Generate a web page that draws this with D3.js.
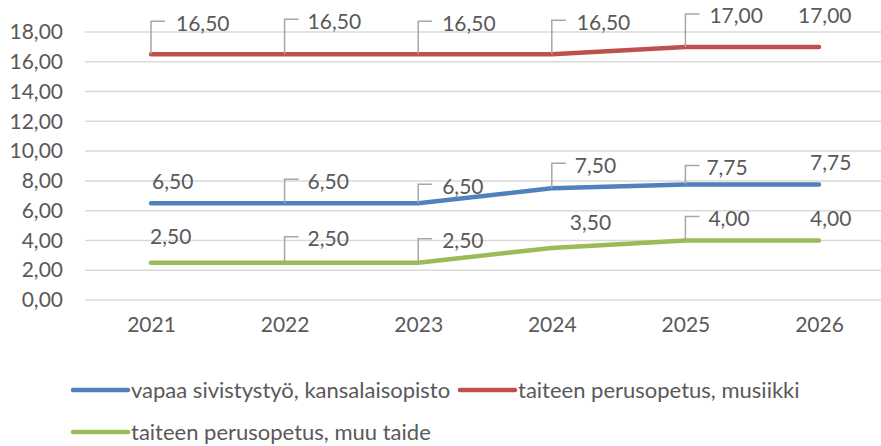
<!DOCTYPE html>
<html>
<head>
<meta charset="utf-8">
<script src="https://cdn.jsdelivr.net/npm/d3@7"></script>
<style>
body { margin: 0; background: #fff; }
text { font-family: Lato, "Noto Sans", sans-serif; fill: #595959; }
</style>
</head>
<body>
<div id="chart"></div>
<script>
// chart data
var years = ["2021", "2022", "2023", "2024", "2025", "2026"];
var kansalaisopisto = [6.5, 6.5, 6.5, 7.5, 7.75, 7.75];
var musiikki = [16.5, 16.5, 16.5, 16.5, 17, 17];
var muuTaide = [2.5, 2.5, 2.5, 3.5, 4, 4];
var yTicks = [0, 2, 4, 6, 8, 10, 12, 14, 16, 18];

var seriesNames = ["vapaa sivistystyö, kansalaisopisto", "taiteen perusopetus, musiikki", "taiteen perusopetus, muu taide"];
var seriesColors = ["#4F81BD", "#C0504D", "#9BBB59"];

// label placement (dx = text left from point, dy = text middle from point, leader line or not)
var labelPos = [
	[[1,-22,0],[23,-22,1],[24,-17,1],[23,-23,1],[21,-17,1],[-9,-22,0]],
	[[25,-31,1],[23,-33,1],[24,-31,1],[25,-32,1],[24,-31,1],[-21,-31,0]],
	[[-1,-26,0],[23,-24,1],[24,-22,1],[18,-25,0],[23,-22,1],[-9,-22,0]]
];

var width = 881, height = 446;
var numSize = "21px", legSize = "22px";
var fmt = function(v){ return v.toFixed(2).replace(".", ","); };

var svg = d3.select("#chart").append("svg")
	.attr("width", width)
	.attr("height", height);

var x = d3.scalePoint()
	.domain(years)
	.range([151, 819]);
var y = d3.scaleLinear()
	.domain([0, 18])
	.range([300, 32]);

// grid
svg.append("g").selectAll("line")
	.data(yTicks)
	.enter().append("line")
	.attr("x1", 85).attr("x2", 886)
	.attr("y1", function(d){ return y(d); })
	.attr("y2", function(d){ return y(d); })
	.attr("stroke", "#D9D9D9")
	.attr("stroke-width", 1.5);

// y axis labels
var yAxis = svg.append("g")
	.attr("transform", "translate(63,0)")
	.call(d3.axisLeft(y).tickValues(yTicks).tickFormat(fmt).tickSize(0).tickPadding(0));
yAxis.select(".domain").remove();
yAxis.selectAll("text").style("font-size", numSize).attr("fill", "#595959").style("font-family", null);

// x axis labels
var xAxis = svg.append("g")
	.attr("transform", "translate(0,317)")
	.call(d3.axisBottom(x).tickSize(0).tickPadding(0));
xAxis.select(".domain").remove();
xAxis.selectAll("text").style("font-size", numSize).attr("fill", "#595959").attr("dy", "0.72em").style("font-family", null);

var allSeries = [kansalaisopisto, musiikki, muuTaide];
var line = d3.line()
	.x(function(d, i){ return x(years[i]); })
	.y(function(d){ return y(d); });

// lines
allSeries.forEach(function(s, k){
	svg.append("path")
		.datum(s)
		.attr("d", line)
		.attr("fill", "none")
		.attr("stroke", seriesColors[k])
		.attr("stroke-width", 4.5)
		.attr("stroke-linecap", "round")
		.attr("stroke-linejoin", "round");
});

// data labels
allSeries.forEach(function(s, k){
	var g = svg.append("g");
	s.forEach(function(v, i){
		var px = x(years[i]), py = y(v);
		var p = labelPos[k][i];
		if(p[2])
		{
			g.append("path")
				.attr("d", "M" + px + "," + py + "V" + (py + p[1] - 2) + "H" + (px + 14))
				.attr("fill", "none")
				.attr("stroke", "#A6A6A6")
				.attr("stroke-width", 1.5);
		}
		g.append("text")
			.attr("x", px + p[0])
			.attr("y", py + p[1])
			.attr("dy", "0.36em")
			.style("font-size", numSize)
			.text(fmt(v));
	});
});

// legend
var legendPos = [[73, 390], [460, 390], [73, 432]];
allSeries.forEach(function(s, k){
	var lg = svg.append("g").attr("transform", "translate(" + legendPos[k][0] + "," + legendPos[k][1] + ")");
	lg.append("line")
		.attr("x1", 0).attr("x2", 55)
		.attr("stroke", seriesColors[k])
		.attr("stroke-width", 4.5)
		.attr("stroke-linecap", "round");
	lg.append("text")
		.attr("x", 58)
		.attr("dy", "0.36em")
		.style("font-size", legSize)
		.text(seriesNames[k]);
});
</script>
</body>
</html>
